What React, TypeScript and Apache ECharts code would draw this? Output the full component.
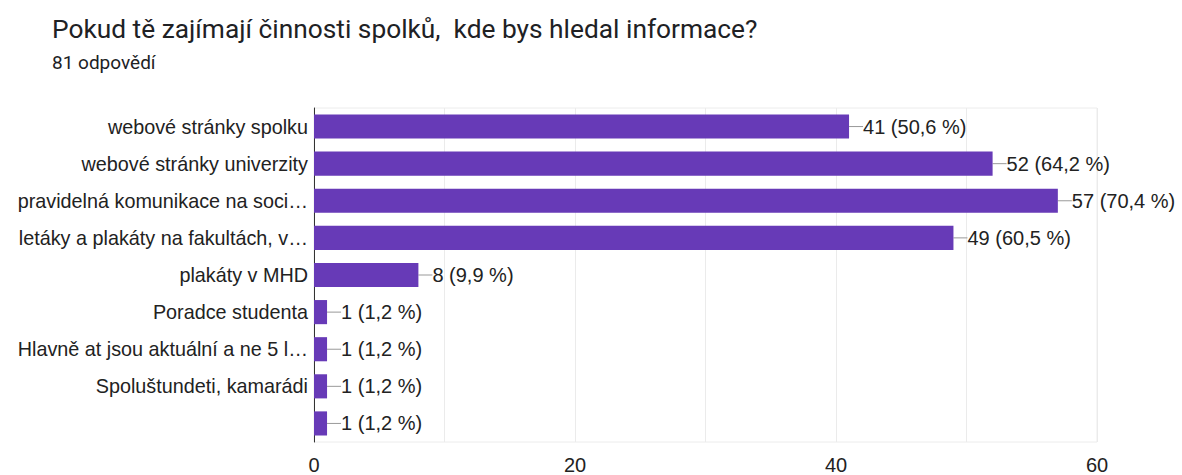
import React, { useEffect, useRef } from "react";
import * as echarts from "echarts";

const categories = [
  "webové stránky spolku",
  "webové stránky univerzity",
  "pravidelná komunikace na soci…",
  "letáky a plakáty na fakultách, v…",
  "plakáty v MHD",
  "Poradce studenta",
  "Hlavně at jsou aktuální a ne 5 l…",
  "Spoluštundeti, kamarádi",
  "",
];
const values = [41, 52, 57, 49, 8, 1, 1, 1, 1];
const percents = ["50,6", "64,2", "70,4", "60,5", "9,9", "1,2", "1,2", "1,2", "1,2"];
const xTicks = [0, 20, 40, 60];

export default function App() {
  const ref = useRef<HTMLDivElement>(null);
  useEffect(() => {
    document.body.style.margin = "0";
    const chart = echarts.init(ref.current!, null, { renderer: "svg" });
    chart.setOption({
      animation: false,
      title: [
        {
          text: "Pokud tě zajímají činnosti spolků,  kde bys hledal informace?",
          left: 47,
          top: 11,
          textStyle: { fontFamily: "Roboto", fontSize: 26.3, fontWeight: "normal", color: "#202124" },
        },
        {
          text: "81 odpovědí",
          left: 47,
          top: 48,
          textStyle: { fontFamily: "Roboto", fontSize: 19, fontWeight: "normal", color: "#202124" },
        },
      ],
      grid: {
        left: 314,
        right: 85,
        top: 108,
        bottom: 31,
        show: true,
        borderColor: "#ececec",
        borderWidth: 1,
      },
      xAxis: {
        type: "value",
        min: xTicks[0],
        max: xTicks[xTicks.length - 1],
        interval: 10,
        axisLine: { show: false },
        axisTick: { show: false },
        splitLine: { lineStyle: { color: "#ebebeb" } },
        axisLabel: {
          margin: 13,
          fontFamily: "Liberation Sans",
          fontSize: 20,
          color: "#222",
          formatter: (v: number) => (xTicks.includes(v) ? String(v) : ""),
        },
      },
      yAxis: {
        type: "category",
        data: categories,
        inverse: true,
        axisLine: { lineStyle: { color: "#333" } },
        axisTick: { show: false },
        axisLabel: { margin: 6, fontFamily: "Liberation Sans", fontSize: 19.8, color: "#222" },
      },
      series: [
        {
          type: "bar",
          data: values,
          barCategoryGap: "35%",
          itemStyle: { color: "#673ab7" },
          label: {
            show: true,
            position: "right",
            distance: 0,
            fontFamily: "Liberation Sans",
            fontSize: 20,
            color: "#222",
            formatter: (p: any) => `${p.value} (${percents[p.dataIndex]} %)`,
          },
          labelLayout: { dx: 14 },
          labelLine: { show: true, lineStyle: { color: "#999", width: 1 } },
        },
      ],
    });
    return () => chart.dispose();
  }, []);
  return <div ref={ref} style={{ width: 1182, height: 475 }} />;
}
